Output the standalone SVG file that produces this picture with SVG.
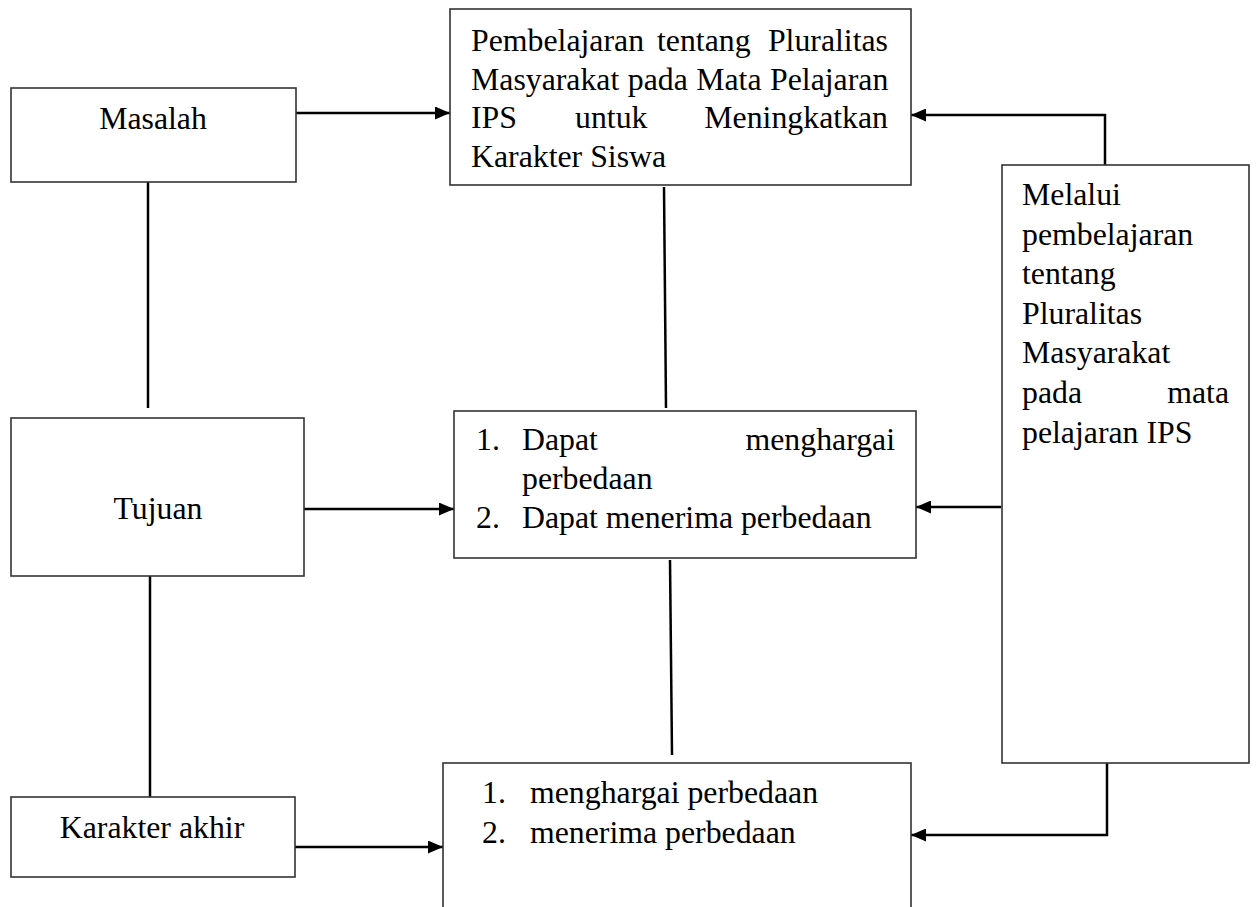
<svg xmlns="http://www.w3.org/2000/svg" width="1256" height="907" viewBox="0 0 1256 907">
<style>
.box{fill:#fff;stroke:#333;stroke-width:1.6}
.t{font-family:"Liberation Serif","Times New Roman",serif;font-size:31.8px;fill:#000}
.c{fill:none;stroke:#000;stroke-width:2.5}
</style>
<defs>
<marker id="ah" markerUnits="userSpaceOnUse" markerWidth="15" markerHeight="13" refX="15" refY="6.5" orient="auto">
<path d="M0,0 L15,6.5 L0,13 z" fill="#000"/>
</marker>
</defs>
<rect width="1256" height="907" fill="#fff"/>
<g id="connectors">
<path class="c" d="M296,113 H450" marker-end="url(#ah)"/>
<path class="c" d="M148,182 V408"/>
<path class="c" d="M664,187 L666,408"/>
<path class="c" d="M1105,165 V115 H911" marker-end="url(#ah)"/>
<path class="c" d="M302,509 H454" marker-end="url(#ah)"/>
<path class="c" d="M1001,507 H916" marker-end="url(#ah)"/>
<path class="c" d="M150,573 V800"/>
<path class="c" d="M670,560 L672,755"/>
<path class="c" d="M292,847 H443" marker-end="url(#ah)"/>
<path class="c" d="M1107,763 V835 H911" marker-end="url(#ah)"/>
</g>
<g id="masalah">
<rect class="box" x="11" y="88" width="285" height="94"/>
<text class="t" x="153" y="129" text-anchor="middle">Masalah</text>
</g>
<g id="judul">
<rect class="box" x="450" y="9" width="461" height="176"/>
<text class="t" y="51"><tspan x="471">Pembelajaran</tspan><tspan x="657">tentang</tspan><tspan x="888" text-anchor="end">Pluralitas</tspan></text>
<text class="t" x="471" y="89.5" word-spacing="0.5">Masyarakat pada Mata Pelajaran</text>
<text class="t" y="128"><tspan x="471">IPS</tspan><tspan x="575">untuk</tspan><tspan x="888" text-anchor="end">Meningkatkan</tspan></text>
<text class="t" x="471" y="166.5">Karakter Siswa</text>
</g>
<g id="tujuan">
<rect class="box" x="11" y="418" width="293" height="158"/>
<text class="t" x="158" y="519" text-anchor="middle">Tujuan</text>
</g>
<g id="tujuan-isi">
<rect class="box" x="454" y="411" width="462" height="147"/>
<text class="t" y="450"><tspan x="476">1.</tspan><tspan x="522">Dapat</tspan><tspan x="895" text-anchor="end">menghargai</tspan></text>
<text class="t" x="522" y="489">perbedaan</text>
<text class="t" y="528"><tspan x="476">2.</tspan><tspan x="522">Dapat menerima perbedaan</tspan></text>
</g>
<g id="melalui">
<rect class="box" x="1002" y="165" width="247" height="598"/>
<text class="t" x="1022" y="205">Melalui</text>
<text class="t" x="1022" y="244.6">pembelajaran</text>
<text class="t" x="1022" y="284.2">tentang</text>
<text class="t" x="1022" y="323.8">Pluralitas</text>
<text class="t" x="1022" y="363.4">Masyarakat</text>
<text class="t" y="403"><tspan x="1022">pada</tspan><tspan x="1229" text-anchor="end">mata</tspan></text>
<text class="t" x="1022" y="442.6">pelajaran IPS</text>
</g>
<g id="karakter-akhir">
<rect class="box" x="11" y="797" width="284" height="80"/>
<text class="t" x="152" y="838" text-anchor="middle">Karakter akhir</text>
</g>
<g id="karakter-isi">
<rect class="box" x="443" y="763" width="468" height="160"/>
<text class="t" y="803"><tspan x="482">1.</tspan><tspan x="530">menghargai perbedaan</tspan></text>
<text class="t" y="843"><tspan x="482">2.</tspan><tspan x="530">menerima perbedaan</tspan></text>
</g>
</svg>
